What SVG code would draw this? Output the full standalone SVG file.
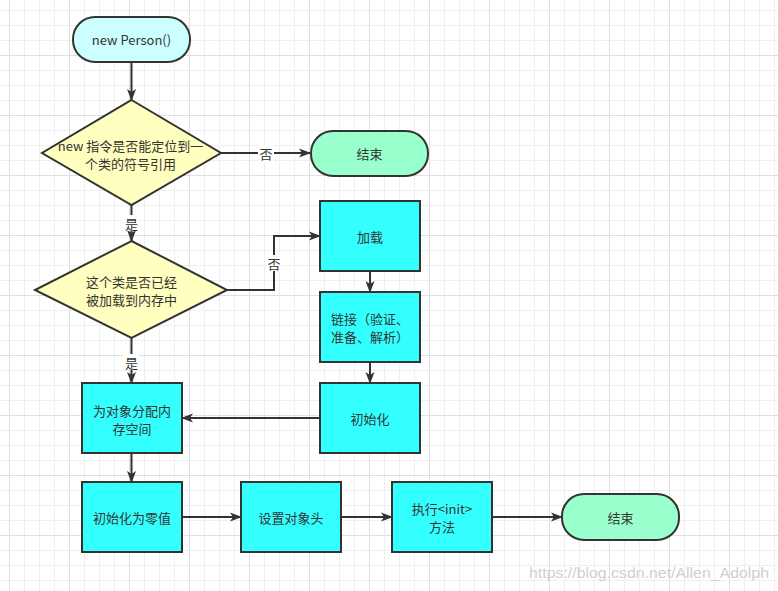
<svg xmlns="http://www.w3.org/2000/svg" width="778" height="591" viewBox="0 0 778 591">
<style>
.t{font-family:"Noto Sans CJK SC","Microsoft YaHei",sans-serif;font-size:13px;fill:#333;text-anchor:middle;dominant-baseline:central}
.n{stroke:#333;stroke-width:2}
.start{fill:#ccffff}
.dec{fill:#ffffc0}
.proc{fill:#33ffff}
.end{fill:#99ffcc}
.e{fill:none;stroke:#333;stroke-width:2}
.lb{fill:#fff}
.wm{font-family:"Liberation Sans",Arial,sans-serif;font-size:15.5px;fill:#cfcfcf}
</style>
<defs>
<pattern id="minor" x="9" y="10" width="15" height="15" patternUnits="userSpaceOnUse">
<path d="M0.5,0 V15 M0,0.5 H15" stroke="#efefef" stroke-width="1" fill="none"/>
</pattern>
<pattern id="major" x="9" y="55" width="60" height="60" patternUnits="userSpaceOnUse">
<path d="M0.5,0 V60 M0,0.5 H60" stroke="#e0e0e0" stroke-width="1" fill="none"/>
</pattern>
<marker id="arr" viewBox="0 0 12 10" refX="11" refY="5" markerWidth="12" markerHeight="10" markerUnits="userSpaceOnUse" orient="auto">
<path d="M0,0.5 L12,5 L0,9.5 L3,5 z" fill="#333"/>
</marker>
</defs>
<rect width="778" height="591" fill="#fff"/>
<rect width="778" height="591" fill="url(#minor)"/>
<rect width="778" height="591" fill="url(#major)"/>

<g id="connectors">
<path class="e" d="M131.5,62 V100" marker-end="url(#arr)"/>
<path class="e" d="M221,153 H310" marker-end="url(#arr)"/>
<path class="e" d="M131.5,205 V241" marker-end="url(#arr)"/>
<path class="e" d="M227,290 H274 V236 H320" marker-end="url(#arr)"/>
<path class="e" d="M131.5,338 V383" marker-end="url(#arr)"/>
<path class="e" d="M370,271 V292" marker-end="url(#arr)"/>
<path class="e" d="M370,362 V383" marker-end="url(#arr)"/>
<path class="e" d="M320,418 H182" marker-end="url(#arr)"/>
<path class="e" d="M131.5,453 V482" marker-end="url(#arr)"/>
<path class="e" d="M182,517 H241" marker-end="url(#arr)"/>
<path class="e" d="M341,517 H392" marker-end="url(#arr)"/>
<path class="e" d="M492,517 H562" marker-end="url(#arr)"/>
<rect class="lb" x="258" y="145" width="16" height="16"/>
<text class="t" x="266" y="153">否</text>
<rect class="lb" x="123" y="215" width="16" height="16"/>
<text class="t" x="131.5" y="223">是</text>
<rect class="lb" x="266" y="255" width="16" height="16"/>
<text class="t" x="274" y="263">否</text>
<rect class="lb" x="123" y="354" width="16" height="16"/>
<text class="t" x="131.5" y="362">是</text>
</g>

<g id="start">
<rect class="n start" x="73" y="17" width="117" height="45" rx="22" ry="22"/>
<text class="t" x="131.5" y="39.5">new Person()</text>
</g>
<g id="check-ref">
<polygon class="n dec" points="131.5,100 221,153 131.5,205 42,153"/>
<text class="t"><tspan x="130.5" y="144.5">new 指令是否能定位到一</tspan><tspan x="130.5" y="162.5">个类的符号引用</tspan></text>
</g>
<g id="end1">
<rect class="n end" x="311" y="131" width="117" height="45" rx="22" ry="22"/>
<text class="t" x="369.5" y="153.5">结束</text>
</g>
<g id="check-loaded">
<polygon class="n dec" points="131.5,241 227,290 131.5,338 35,290"/>
<text class="t"><tspan x="131.5" y="281">这个类是否已经</tspan><tspan x="131.5" y="299">被加载到内存中</tspan></text>
</g>
<g id="load">
<rect class="n proc" x="320" y="201" width="100" height="70"/>
<text class="t" x="370" y="236">加载</text>
</g>
<g id="link">
<rect class="n proc" x="320" y="292" width="100" height="70"/>
<text class="t"><tspan x="370" y="318">链接（验证、</tspan><tspan x="370" y="336">准备、解析）</tspan></text>
</g>
<g id="init">
<rect class="n proc" x="320" y="383" width="100" height="70"/>
<text class="t" x="370" y="418">初始化</text>
</g>
<g id="alloc">
<rect class="n proc" x="82" y="383" width="100" height="70"/>
<text class="t"><tspan x="132" y="409.5">为对象分配内</tspan><tspan x="132" y="427.5">存空间</tspan></text>
</g>
<g id="zero">
<rect class="n proc" x="82" y="482" width="100" height="70"/>
<text class="t" x="132" y="517">初始化为零值</text>
</g>
<g id="header">
<rect class="n proc" x="241" y="482" width="100" height="70"/>
<text class="t" x="291" y="517">设置对象头</text>
</g>
<g id="clinit">
<rect class="n proc" x="392" y="482" width="100" height="70"/>
<text class="t"><tspan x="442" y="508">执行&lt;init&gt;</tspan><tspan x="442" y="526">方法</tspan></text>
</g>
<g id="end2">
<rect class="n end" x="562" y="494" width="117" height="46" rx="22" ry="22"/>
<text class="t" x="620.5" y="517">结束</text>
</g>

<text class="wm" x="529" y="578" textLength="240" lengthAdjust="spacingAndGlyphs">https://blog.csdn.net/Allen_Adolph</text>
</svg>
